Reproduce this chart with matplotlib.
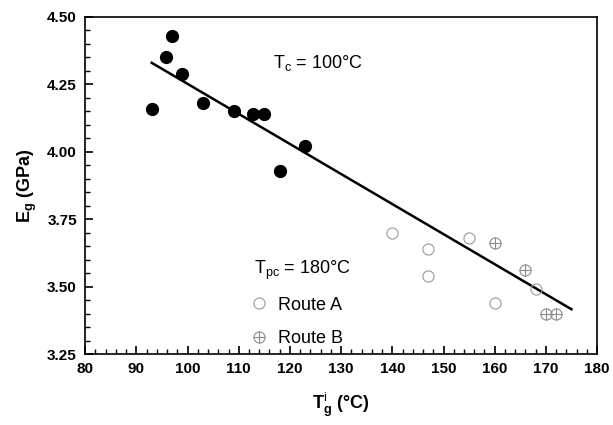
import matplotlib
matplotlib.use("Agg")
import matplotlib.pyplot as plt
from matplotlib.lines import Line2D
from matplotlib.ticker import MultipleLocator, FormatStrFormatter

plt.rcParams['font.family'] = ['Liberation Sans', 'DejaVu Sans']
plt.rcParams['mathtext.fontset'] = 'custom'
plt.rcParams['mathtext.rm'] = 'Liberation Sans'
plt.rcParams['mathtext.bf'] = 'Liberation Sans:bold'

# Tc = 100 °C series
tc_x = [93, 95.8, 96.9, 98.9, 103, 109, 112.8, 114.9, 118, 123]
tc_y = [4.16, 4.35, 4.43, 4.29, 4.18, 4.15, 4.14, 4.14, 3.93, 4.02]

# Tpc = 180 °C, route A
ra_x = [140, 147, 147, 155, 160, 168]
ra_y = [3.70, 3.64, 3.54, 3.68, 3.44, 3.49]

# Tpc = 180 °C, route B
rb_x = [160, 166, 170, 172]
rb_y = [3.66, 3.56, 3.40, 3.40]

# linear fit
fit_x = [93, 175]
fit_y = [4.33, 3.416]

fig = plt.figure(figsize=(6.13, 4.25), dpi=100)
ax = fig.add_axes([0.139, 0.167, 0.835, 0.793])

ax.plot(fit_x, fit_y, color='black', lw=1.8, zorder=2)
ax.plot(tc_x, tc_y, 'o', color='black', ms=8.5, zorder=3)
ax.plot(ra_x, ra_y, 'o', mfc='none', mec='#9a9a9a', mew=0.8, ms=8, zorder=3)
ax.plot(rb_x, rb_y, 'o', mfc='none', mec='#8a8a8a', mew=0.8, ms=8, zorder=3)
ax.plot(rb_x, rb_y, '+', color='#8a8a8a', mew=0.8, ms=8, zorder=3)

ax.set_xlim(80, 180)
ax.set_ylim(3.25, 4.50)
ax.xaxis.set_major_locator(MultipleLocator(10))
ax.xaxis.set_minor_locator(MultipleLocator(2))
ax.yaxis.set_major_locator(MultipleLocator(0.25))
ax.yaxis.set_minor_locator(MultipleLocator(0.05))
ax.yaxis.set_major_formatter(FormatStrFormatter('%.2f'))
ax.tick_params(which='both', direction='in', top=False, right=False)
ax.tick_params(which='major', length=6, width=1.2, labelsize=11, pad=6)
ax.tick_params(which='minor', length=3.5, width=1)
for lab in ax.get_xticklabels() + ax.get_yticklabels():
    lab.set_fontweight('bold')
for sp in ax.spines.values():
    sp.set_linewidth(1.2)

ax.set_xlabel(r'T$_{\mathbf{g}}^{\mathrm{i}}$ (°C)', fontsize=13, fontweight='bold', labelpad=10)
ax.set_ylabel(r'E$_{\mathbf{g}}$ (GPa)', fontsize=13, fontweight='bold', labelpad=6)

ax.text(116.7, 4.33, r'T$_{\mathrm{c}}$ = 100°C', fontsize=13, va='center', ha='left')
ax.text(113.0, 3.562, r'T$_{\mathrm{pc}}$ = 180°C', fontsize=13, va='center', ha='left')

handles = [
    Line2D([], [], marker='o', ls='none', mfc='none', mec='#9a9a9a', mew=0.8, ms=8),
    (Line2D([], [], marker='o', ls='none', mfc='none', mec='#8a8a8a', mew=0.8, ms=8),
     Line2D([], [], marker='+', ls='none', color='#8a8a8a', mew=0.8, ms=8)),
]
ax.legend(handles, ['Route A', 'Route B'], loc='upper left',
          bbox_to_anchor=(0.321, 0.17), frameon=False, fontsize=13,
          handletextpad=0.6, labelspacing=0.9, handlelength=1.0,
          borderaxespad=0, borderpad=0)

fig.savefig('out.png', dpi=100)
